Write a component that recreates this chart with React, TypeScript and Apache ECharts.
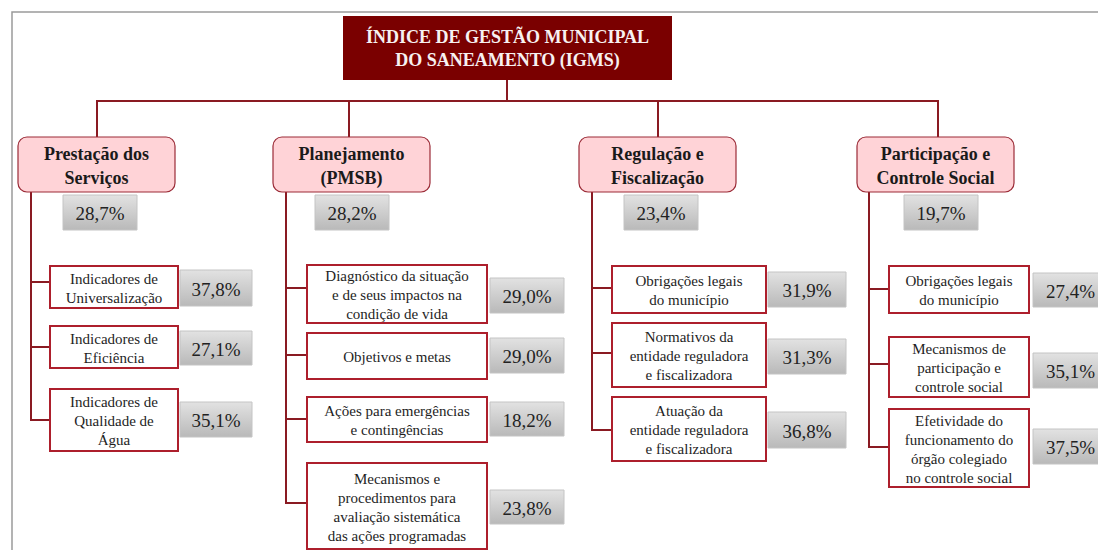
import React, { useEffect, useRef } from "react";
import * as echarts from "echarts";

// ---------- data ----------
const titleLines = ["ÍNDICE DE GESTÃO MUNICIPAL", "DO SANEAMENTO (IGMS)"];
const categories = ["Prestação dos\nServiços", "Planejamento\n(PMSB)", "Regulação e\nFiscalização", "Participação e\nControle Social"];
const categoryValues = [28.7, 28.2, 23.4, 19.7];

const prestacaoItems = ["Indicadores de\nUniversalização", "Indicadores de\nEficiência", "Indicadores de\nQualidade de\nÁgua"];
const prestacaoValues = [37.8, 27.1, 35.1];

const planejamentoItems = [
  "Diagnóstico da situação\ne de seus impactos na\ncondição de vida",
  "Objetivos e metas",
  "Ações para emergências\ne contingências",
  "Mecanismos e\nprocedimentos para\navaliação sistemática\ndas ações programadas",
];
const planejamentoValues = [29.0, 29.0, 18.2, 23.8];

const regulacaoItems = [
  "Obrigações legais\ndo município",
  "Normativos da\nentidade reguladora\ne fiscalizadora",
  "Atuação da\nentidade reguladora\ne fiscalizadora",
];
const regulacaoValues = [31.9, 31.3, 36.8];

const participacaoItems = [
  "Obrigações legais\ndo município",
  "Mecanismos de\nparticipação e\ncontrole social",
  "Efetividade do\nfuncionamento do\nórgão colegiado\nno controle social",
];
const participacaoValues = [27.4, 35.1, 37.5];

const childItems = [prestacaoItems, planejamentoItems, regulacaoItems, participacaoItems];
const childValues = [prestacaoValues, planejamentoValues, regulacaoValues, participacaoValues];

// ---------- layout (positions / sizes) ----------
const titleBox = { x: 343, y: 16, w: 329, h: 64, connX: 507, busY: 101 };
const catBoxX = [18, 273, 579, 857];
const catBox = { y: 137, w: 157, h: 55 };
const catConnX = [97, 349, 658, 938];
const catPctX = [63, 315, 624, 904];
const catPct = { y: 195, w: 74, h: 35 };
const treeX = [31, 286, 592, 869];
const childBoxX = [[50, 128], [307, 180], [612, 154], [889, 140]];
const childBoxY = [
  [[266, 42], [326, 42], [389, 62]],
  [[265, 58], [333, 46], [397, 45], [463, 86]],
  [[266, 47], [323, 64], [397, 64]],
  [[266, 47], [337, 60], [409, 78]],
];
const childConnY = [
  [282, 347, 420],
  [288, 355, 419, 503],
  [288, 353, 430],
  [289, 364, 447],
];
const childPctX = [[180, 72], [490, 74], [768, 78], [1033, 75]];
const childPctY = [
  [[270, 36], [331, 34], [402, 35]],
  [[278, 35], [338, 35], [402, 34], [490, 34]],
  [[272, 35], [339, 35], [412, 36]],
  [[273, 34], [353, 35], [429, 35]],
];

const FAMILY = "Liberation Serif";
const LINE = "#8a1a22";
const fmt = (v: number) => v.toFixed(1).replace(".", ",") + "%";

function textEl(x: number, y: number, text: string, fontSize: number, bold: boolean, fill: string, lineHeight: number) {
  return {
    type: "text",
    x,
    y,
    z: 3,
    style: {
      text,
      fill,
      fontFamily: FAMILY,
      fontWeight: bold ? "bold" : "normal",
      fontSize,
      align: "center",
      verticalAlign: "middle",
      lineHeight,
    },
  };
}

function buildGraphic() {
  const els: any[] = [];
  const poly = (points: number[][], color = LINE, w = 2) =>
    els.push({ type: "polyline", shape: { points }, style: { stroke: color, lineWidth: w, fill: "none" }, z: 1 });

  // frame
  poly([[1098, 12], [12, 12], [12, 550]], "#9a9a9a", 1.5);

  // title connectors
  poly([[titleBox.connX, titleBox.y + titleBox.h], [titleBox.connX, titleBox.busY]]);
  poly([[catConnX[0], catBox.y], [catConnX[0], titleBox.busY], [catConnX[3], titleBox.busY], [catConnX[3], catBox.y]]);
  poly([[catConnX[1], titleBox.busY], [catConnX[1], catBox.y]]);
  poly([[catConnX[2], titleBox.busY], [catConnX[2], catBox.y]]);

  // tree lines
  treeX.forEach((x, i) => {
    const conns = childConnY[i];
    const last = conns[conns.length - 1];
    poly([[x, catBox.y + catBox.h], [x, last], [childBoxX[i][0], last]]);
    conns.slice(0, -1).forEach((y) => poly([[x, y], [childBoxX[i][0], y]]));
  });

  const pctRect = (x: number, y: number, w: number, h: number, v: number) => {
    els.push({
      type: "rect",
      shape: { x, y, width: w, height: h },
      style: {
        fill: new echarts.graphic.LinearGradient(0, 0, 0, 1, [
          { offset: 0, color: "#e2e2e2" },
          { offset: 1, color: "#b9b9b9" },
        ]),
        stroke: "#c4c4c4",
        lineWidth: 1,
      },
      z: 2,
    });
    els.push(textEl(x + w / 2, y + h / 2 + 1, fmt(v), 19, false, "#222222", 22));
  };

  // title box
  els.push({
    type: "rect",
    shape: { x: titleBox.x, y: titleBox.y, width: titleBox.w, height: titleBox.h },
    style: { fill: "#7a0000" },
    z: 2,
  });
  els.push(textEl(titleBox.x + titleBox.w / 2, titleBox.y + titleBox.h / 2, titleLines.join("\n"), 18, true, "#f7f1f1", 23));

  // categories
  categories.forEach((c, i) => {
    els.push({
      type: "rect",
      shape: { x: catBoxX[i], y: catBox.y, width: catBox.w, height: catBox.h, r: 9 },
      style: { fill: "#ffd3d7", stroke: "#9b2b37", lineWidth: 1.2 },
      z: 2,
    });
    els.push(textEl(catBoxX[i] + catBox.w / 2, catBox.y + catBox.h / 2 + 1, c, 18, true, "#1a1a1a", 24));
    pctRect(catPctX[i], catPct.y, catPct.w, catPct.h, categoryValues[i]);
  });

  // children
  childItems.forEach((items, i) => {
    items.forEach((label, j) => {
      const [bx, bw] = childBoxX[i];
      const [by, bh] = childBoxY[i][j];
      els.push({
        type: "rect",
        shape: { x: bx, y: by, width: bw, height: bh },
        style: { fill: "#ffffff", stroke: "#ad1f2c", lineWidth: 2 },
        z: 2,
      });
      els.push(textEl(bx + bw / 2, by + bh / 2 + 1, label, 15, false, "#1e1e1e", 19));
      const [px, pw] = childPctX[i];
      const [py, ph] = childPctY[i][j];
      pctRect(px, py, pw, ph, childValues[i][j]);
    });
  });

  return els;
}

export default function App() {
  const ref = useRef<HTMLDivElement>(null);
  useEffect(() => {
    if (!ref.current) return;
    const chart = echarts.init(ref.current, undefined, { renderer: "svg" });
    chart.setOption({
      animation: false,
      backgroundColor: "#ffffff",
      graphic: { elements: buildGraphic() },
    });
    return () => chart.dispose();
  }, []);
  return (
    <div
      ref={ref}
      style={{ position: "fixed", left: 0, top: 0, width: 1098, height: 550, background: "#fff" }}
    />
  );
}
